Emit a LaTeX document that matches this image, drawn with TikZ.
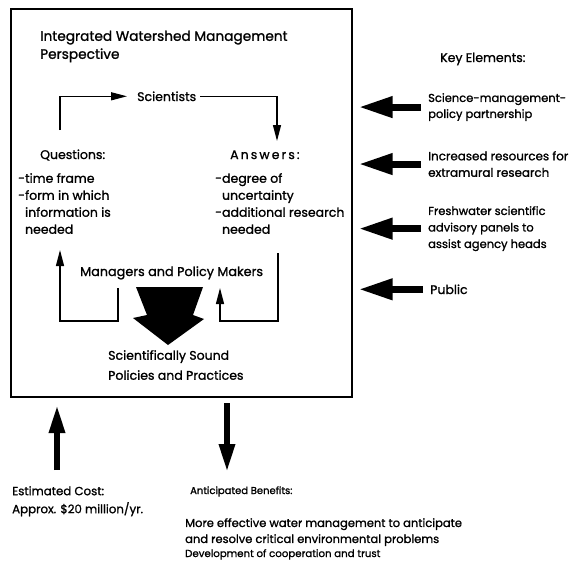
\documentclass[tikz,border=0pt]{standalone}
\usepackage{fontspec}
\setmainfont{Poppins}[FakeBold=1.2]
\usetikzlibrary{arrows.meta}

\tikzset{
  txt/.style={inner sep=0pt, align=left, font=\fontsize{12.5}{17}\selectfont},
  keytxt/.style={txt, font=\fontsize{11.5}{16.5}\selectfont},
  flow/.style={-{Triangle[length=16pt,width=8pt]}, line width=1.3pt},
  block/.style={-{Triangle[length=34pt,width=20pt]}, line width=7pt},
  blockup/.style={-{Triangle[length=28pt,width=15pt]}, line width=6pt},
}

\begin{document}
\begin{tikzpicture}[x=1pt, y=-1pt]
        \useasboundingbox (0,0) rectangle (578,571);

        % frame
        \node[draw, line width=1.3pt, minimum width=341pt, minimum height=388pt] at (181.5,203) (frame) {};

        \node[txt, anchor=north west, font=\fontsize{13.7}{18}\selectfont] at (40,30.5) (title) {Integrated Watershed Management\\Perspective};
        \node[txt, anchor=base west] at (137,101) (sci) {Scientists};
        \node[txt, anchor=base west] at (40,159) (quest) {Questions:};
        \node[txt, anchor=base west] at (230,159) (answ) {A\,n\,s\,w\,e\,r\,s\,:};
        \node[txt, anchor=north west] at (18,173) (qlist) {-time frame\\-form in which\\\phantom{-}information is\\\phantom{-}needed};
        \node[txt, anchor=north west] at (215,173) (alist) {-degree of\\\phantom{-}uncertainty\\-additional research\\\phantom{-}needed};
        \node[txt, anchor=base west, font=\fontsize{12.8}{17}\selectfont] at (80,276) (mgr) {Managers and Policy Makers};
        \node[txt, anchor=north west, font=\fontsize{12.5}{20}\selectfont] at (108,350) (sound) {Scientifically Sound\\Policies and Practices};

        \coordinate (q1) at (60,130);
        \coordinate (a1) at (277,141);
        \draw[flow, shorten >=10pt] (q1) |- (sci.west);
        \draw[flow, shorten <=4pt] (sci.east) -| (a1);

        \coordinate (ml) at (118,288);
        \coordinate (lb) at (60,321);
        \coordinate (lq) at (60,250);
        \draw[flow] (ml) |- (lb) -- (lq);
        \coordinate (ra) at (278,253);
        \coordinate (rb) at (220,321);
        \coordinate (mr) at (220,288);
        \draw[flow] (ra) |- (rb) -- (mr);

        % big arrow
        \fill (136,287) -- (203,287) -- (193,315) -- (204,319) -- (168,345) -- (133,318) -- (147,315) -- cycle;

        % key elements
        \node[txt, anchor=base west] at (440,62) (keyhead) {Key Elements:};
        \node[keytxt, anchor=north west, font=\fontsize{11.5}{16}\selectfont] at (428,93) (k1) {Science-management-\\policy partnership};
        \node[keytxt, anchor=north west, font=\fontsize{11.9}{16.5}\selectfont] at (428,151) (k2) {Increased resources for\\extramural research};
        \node[keytxt, anchor=north west] at (428,206) (k3) {Freshwater scientific\\advisory panels to\\assist agency heads};
        \node[txt, anchor=base west] at (430,294) (pub) {Public};

        \foreach \k in {k1,k2,k3,pub}
          \draw[block, shorten >=6pt] ([xshift=-7pt]\k.west) -- (\k.west -| frame.east);

        % cost and benefits
        \node[txt, anchor=north west, font=\fontsize{11.8}{18}\selectfont] at (12,486) (cost) {Estimated Cost:\\Approx. \$20 million/yr.};
        \node[txt, anchor=base west, font=\fontsize{10}{16}\selectfont] at (190,494) (benhead) {Anticipated Benefits:};
        \node[txt, anchor=north west, font=\fontsize{11.5}{16}\selectfont] at (185,518) (ben) {More effective water management to anticipate\\and resolve critical environmental problems};
        \node[txt, anchor=base west, font=\fontsize{10.2}{16}\selectfont] at (185,557) (trust) {Development of cooperation and trust};

        \coordinate (costtail) at (57,470);
        \coordinate (costtip) at (57,405);
        \coordinate (bentail) at (227,403);
        \coordinate (bentip) at (227,472);
        \draw[blockup] (costtail) -- (costtip);
        \draw[blockup] (bentail) -- (bentip);
\end{tikzpicture}
\end{document}
